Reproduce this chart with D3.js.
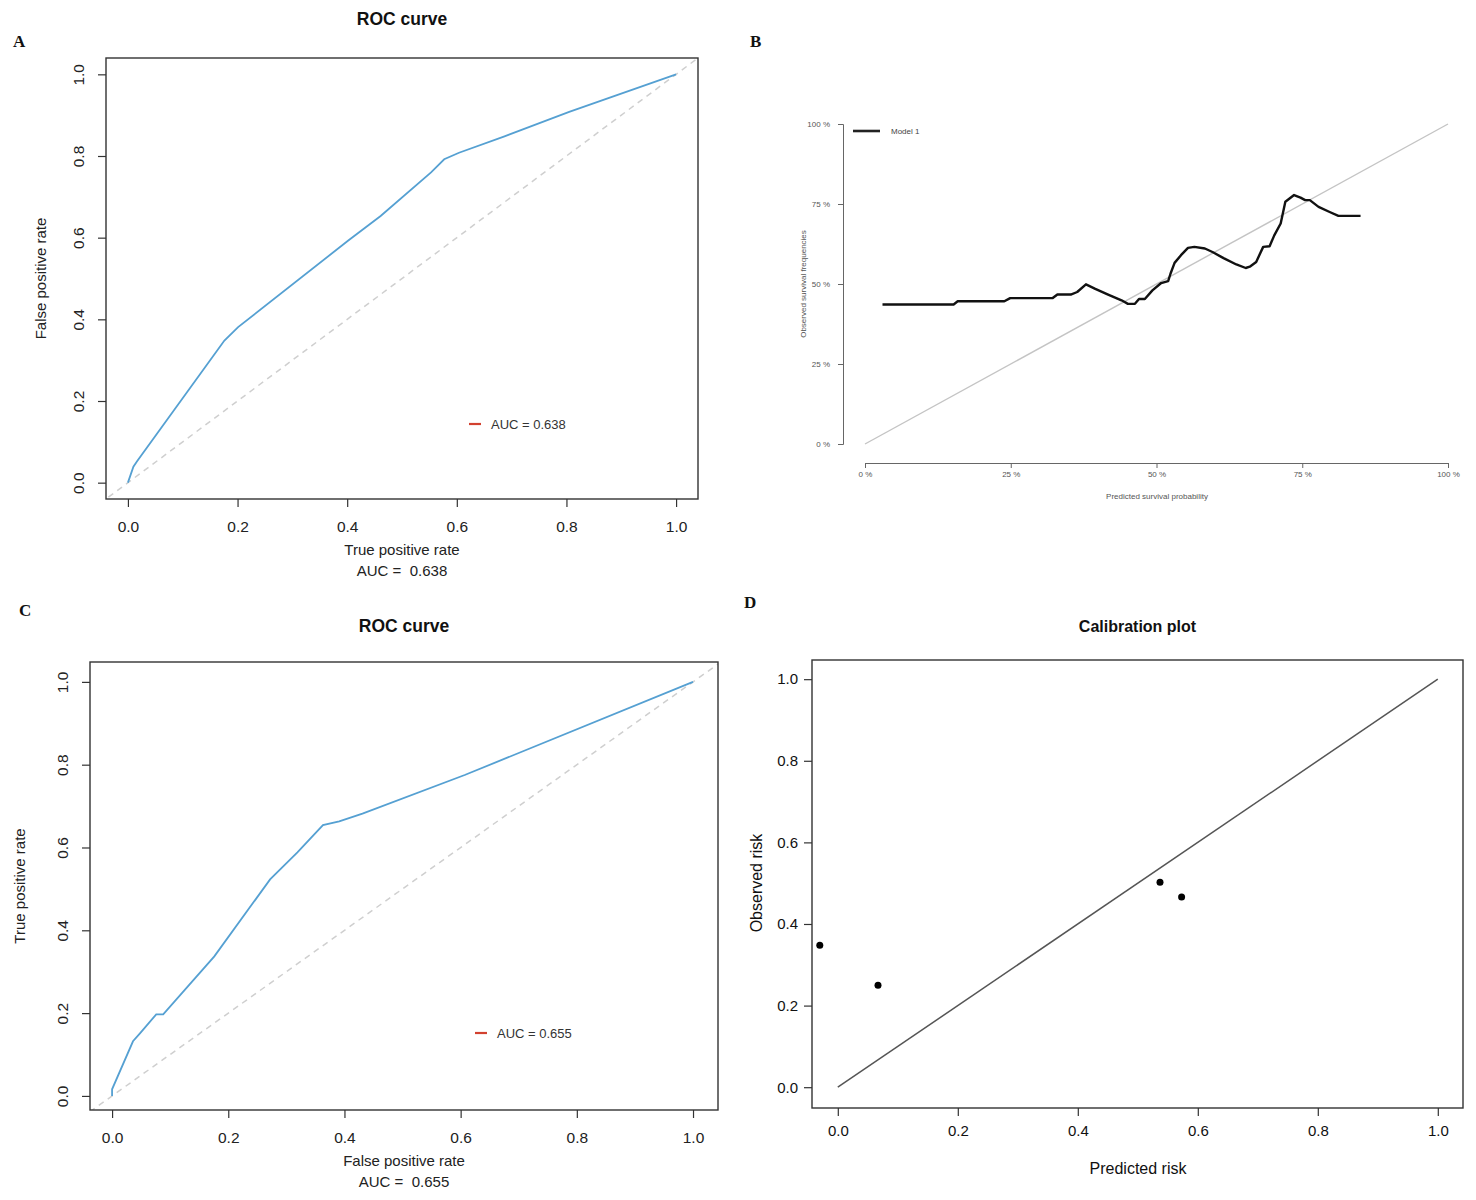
<!DOCTYPE html>
<html>
<head>
<meta charset="utf-8">
<script src="https://cdn.jsdelivr.net/npm/d3@7"></script>
<style>
  body { margin: 0; background: #fff; }
  svg text { font-family: "Liberation Sans", Arial, sans-serif; }
  .panel-tag { font-family: "Liberation Serif", "DejaVu Serif", serif !important; font-weight: bold; }
</style>
</head>
<body>
<div id="graphic"></div>
<script>
// panel A: roc curve (axis names as printed in the figure)
const rocAX = [0, 0.01, 0.017, 0.176, 0.201, 0.402, 0.461, 0.553, 0.577, 0.604, 0.687, 0.805, 1];
const rocAY = [0, 0.039, 0.053, 0.348, 0.381, 0.593, 0.653, 0.760, 0.792, 0.808, 0.848, 0.908, 1];

// panel C: roc curve
const rocCX = [0, 0, 0.036, 0.048, 0.076, 0.088, 0.176, 0.272, 0.319, 0.363, 0.391, 0.431, 0.607, 1];
const rocCY = [0, 0.016, 0.132, 0.151, 0.197, 0.197, 0.337, 0.523, 0.588, 0.654, 0.663, 0.682, 0.775, 1];

// panel B: smoothed calibration curve, in percent
const calPred = [3.0, 15.2, 15.9, 23.9, 24.9, 32.2, 33.0, 35.3, 36.4, 37.9, 39.5, 41.7, 44.0, 45.1, 46.3,
  47.0, 48.0, 49.3, 50.8, 52.0, 52.4, 53.1, 54.2, 55.4, 56.5, 58.3, 59.6, 61.5, 63.7, 65.3, 66.0,
  67.1, 68.3, 69.4, 70.2, 71.3, 72.1, 73.6, 74.7, 75.5, 76.3, 77.8, 79.7, 81.2, 85.0];
const calObs = [43.6, 43.6, 44.6, 44.6, 45.6, 45.6, 46.7, 46.7, 47.5, 49.9, 48.5, 46.7, 44.9, 43.8, 43.8,
  45.3, 45.3, 48.0, 50.3, 50.9, 53.2, 56.6, 59.0, 61.3, 61.6, 61.1, 60.0, 58.1, 56.1, 55.0, 55.4,
  56.9, 61.6, 61.8, 65.2, 68.9, 75.7, 77.8, 77.0, 76.2, 76.2, 74.1, 72.5, 71.3, 71.3];
const pctTicks = [0, 25, 50, 75, 100];

// panel D: grouped calibration points
const riskPred = [-0.03, 0.067, 0.537, 0.573];
const riskObs = [0.348, 0.25, 0.502, 0.466];

const unitTicks = [0, 0.2, 0.4, 0.6, 0.8, 1.0];

const svg = d3.select("#graphic").append("svg")
  .attr("width", 1476)
  .attr("height", 1200);

function zip(xs, ys) {
  return xs.map((x, i) => ({ x: x, y: ys[i] }));
}

// R style panel with a full box, ticks outward
function drawBoxPlot(o) {
  const x = d3.scaleLinear().domain(o.xDomain).range([o.left, o.right]);
  const y = d3.scaleLinear().domain(o.yDomain).range([o.bottom, o.top]);

  const g = svg.append("g");

  const xAxis = g.append("g")
    .attr("transform", `translate(0,${o.bottom})`)
    .call(d3.axisBottom(x).tickValues(unitTicks).tickFormat(d3.format(".1f"))
      .tickSizeOuter(0).tickSize(8).tickPadding(o.xPad));
  xAxis.select(".domain").remove();
  xAxis.selectAll("line").attr("stroke", "#333").attr("stroke-width", 1.2);
  xAxis.selectAll("text").attr("font-size", o.tickFont).attr("fill", o.tickFill);

  const yAxis = g.append("g")
    .attr("transform", `translate(${o.left},0)`)
    .call(d3.axisLeft(y).tickValues(unitTicks).tickFormat(d3.format(".1f"))
      .tickSizeOuter(0).tickSize(8).tickPadding(6));
  yAxis.select(".domain").remove();
  yAxis.selectAll("line").attr("stroke", "#333").attr("stroke-width", 1.2);
  yAxis.selectAll("text").attr("font-size", o.tickFont).attr("fill", o.tickFill);
  if (o.rotateY) {
    yAxis.selectAll("text")
      .attr("transform", "rotate(-90)")
      .attr("text-anchor", "middle")
      .attr("x", 0)
      .attr("y", -22)
      .attr("dy", 0);
  }

  const clipId = "clip" + Math.round(o.left);
  g.append("clipPath").attr("id", clipId)
    .append("rect")
    .attr("x", o.left).attr("y", o.top)
    .attr("width", o.right - o.left).attr("height", o.bottom - o.top);

  const plot = g.append("g").attr("clip-path", `url(#${clipId})`);

  g.append("rect")
    .attr("x", o.left).attr("y", o.top)
    .attr("width", o.right - o.left).attr("height", o.bottom - o.top)
    .attr("fill", "none")
    .attr("stroke", "#333")
    .attr("stroke-width", 1.4);

  g.append("text")
    .attr("x", (o.left + o.right) / 2)
    .attr("y", o.titleY)
    .attr("text-anchor", "middle")
    .attr("font-size", o.titleFont)
    .attr("font-weight", "bold")
    .attr("fill", "#111")
    .text(o.title);

  return { x: x, y: y, g: g, plot: plot };
}

function drawRoc(o, xs, ys, auc) {
  const p = drawBoxPlot(o);
  const line = d3.line().x(d => p.x(d.x)).y(d => p.y(d.y));

  // chance line, dashed, across the whole box
  p.plot.append("path")
    .datum(zip([-0.1, 1.1], [-0.1, 1.1]))
    .attr("d", line)
    .attr("fill", "none")
    .attr("stroke", "#cfcfcf")
    .attr("stroke-width", 1.5)
    .attr("stroke-dasharray", "6,5");

  p.plot.append("path")
    .datum(zip(xs, ys))
    .attr("d", line)
    .attr("fill", "none")
    .attr("stroke", "#55a0d2")
    .attr("stroke-width", 1.8);

  // legend
  p.g.append("line")
    .attr("x1", o.legX).attr("x2", o.legX + 12)
    .attr("y1", o.legY).attr("y2", o.legY)
    .attr("stroke", "#d2412f").attr("stroke-width", 2.2);
  p.g.append("text")
    .attr("x", o.legX + 22).attr("y", o.legY + 5)
    .attr("font-size", 13).attr("fill", "#333")
    .text("AUC = " + auc);

  const mid = (o.left + o.right) / 2;
  p.g.append("text")
    .attr("x", mid).attr("y", o.bottom + 56)
    .attr("text-anchor", "middle").attr("font-size", 15).attr("fill", "#222")
    .text(o.xTitle);
  p.g.append("text")
    .attr("x", mid).attr("y", o.bottom + 77)
    .attr("text-anchor", "middle").attr("font-size", 15).attr("fill", "#222")
    .text("AUC =\u00a0 " + auc);
  p.g.append("text")
    .attr("transform", `translate(${o.yTitleX},${(o.top + o.bottom) / 2}) rotate(-90)`)
    .attr("text-anchor", "middle").attr("font-size", 15).attr("fill", "#222")
    .text(o.yTitle);
}

drawRoc({
  left: 106, right: 698, top: 58, bottom: 499,
  xDomain: [-0.04, 1.04], yDomain: [-0.04, 1.04],
  xPad: 14, tickFont: 15.5, tickFill: "#222", rotateY: true,
  title: "ROC curve", titleY: 25, titleFont: 17.5,
  xTitle: "True positive rate", yTitle: "False positive rate", yTitleX: 46,
  legX: 469, legY: 424
}, rocAX, rocAY, "0.638");

drawRoc({
  left: 90, right: 718, top: 662, bottom: 1110,
  xDomain: [-0.038, 1.043], yDomain: [-0.034, 1.048],
  xPad: 14, tickFont: 15.5, tickFill: "#222", rotateY: true,
  title: "ROC curve", titleY: 632, titleFont: 17.5,
  xTitle: "False positive rate", yTitle: "True positive rate", yTitleX: 25,
  legX: 475, legY: 1033
}, rocCX, rocCY, "0.655");

// panel D
const pd = drawBoxPlot({
  left: 812, right: 1463, top: 660, bottom: 1108,
  xDomain: [-0.043, 1.042], yDomain: [-0.051, 1.047],
  xPad: 9, tickFont: 15, tickFill: "#111", rotateY: false,
  title: "Calibration plot", titleY: 632, titleFont: 16
});

pd.plot.append("path")
  .datum(zip([0, 1], [0, 1]))
  .attr("d", d3.line().x(d => pd.x(d.x)).y(d => pd.y(d.y)))
  .attr("fill", "none")
  .attr("stroke", "#555")
  .attr("stroke-width", 1.5);

pd.g.selectAll("circle")
  .data(zip(riskPred, riskObs))
  .enter()
  .append("circle")
  .attr("cx", d => pd.x(d.x))
  .attr("cy", d => pd.y(d.y))
  .attr("r", 3.5)
  .attr("fill", "#000");

pd.g.append("text")
  .attr("x", 1138).attr("y", 1174)
  .attr("text-anchor", "middle").attr("font-size", 16).attr("fill", "#111")
  .text("Predicted risk");
pd.g.append("text")
  .attr("transform", "translate(762,883) rotate(-90)")
  .attr("text-anchor", "middle").attr("font-size", 16).attr("fill", "#111")
  .text("Observed risk");

// panel B, tiny R calibration plot with detached axes
const bx = d3.scaleLinear().domain([0, 100]).range([865, 1448]);
const by = d3.scaleLinear().domain([0, 100]).range([444, 124]);
const pb = svg.append("g");
const pctFmt = d => d + " %";

const bxAxis = pb.append("g")
  .attr("transform", "translate(0,463)")
  .call(d3.axisBottom(bx).tickValues(pctTicks).tickFormat(pctFmt).tickSizeOuter(0).tickSize(5).tickPadding(3));
const byAxis = pb.append("g")
  .attr("transform", "translate(843,0)")
  .call(d3.axisLeft(by).tickValues(pctTicks).tickFormat(pctFmt).tickSizeOuter(0).tickSize(5).tickPadding(8));
[bxAxis, byAxis].forEach(a => {
  a.selectAll("path, line").attr("stroke", "#666").attr("stroke-width", 1);
  a.selectAll("text").attr("font-size", 8).attr("fill", "#555");
});

pb.append("path")
  .datum(zip([0, 100], [0, 100]))
  .attr("d", d3.line().x(d => bx(d.x)).y(d => by(d.y)))
  .attr("stroke", "#c4c4c4")
  .attr("stroke-width", 1.4)
  .attr("fill", "none");

pb.append("path")
  .datum(zip(calPred, calObs))
  .attr("d", d3.line().x(d => bx(d.x)).y(d => by(d.y)))
  .attr("stroke", "#111")
  .attr("stroke-width", 2.4)
  .attr("stroke-linejoin", "round")
  .attr("fill", "none");

pb.append("line")
  .attr("x1", 853).attr("x2", 880).attr("y1", 131).attr("y2", 131)
  .attr("stroke", "#222").attr("stroke-width", 2.6);
pb.append("text")
  .attr("x", 891).attr("y", 134)
  .attr("font-size", 8).attr("fill", "#444")
  .text("Model 1");

pb.append("text")
  .attr("x", 1157).attr("y", 499)
  .attr("text-anchor", "middle").attr("font-size", 8).attr("fill", "#555")
  .text("Predicted survival probability");
pb.append("text")
  .attr("transform", "translate(806,284) rotate(-90)")
  .attr("text-anchor", "middle").attr("font-size", 8).attr("fill", "#555")
  .text("Observed survival frequencies");

// panel letters
const tags = [
  { t: "A", x: 13, y: 47 },
  { t: "B", x: 750, y: 47 },
  { t: "C", x: 19, y: 616 },
  { t: "D", x: 744, y: 608 }
];
svg.selectAll(".panel-tag")
  .data(tags)
  .enter()
  .append("text")
  .attr("class", "panel-tag")
  .attr("x", d => d.x)
  .attr("y", d => d.y)
  .attr("font-size", 17)
  .attr("fill", "#111")
  .text(d => d.t);
</script>
</body>
</html>
